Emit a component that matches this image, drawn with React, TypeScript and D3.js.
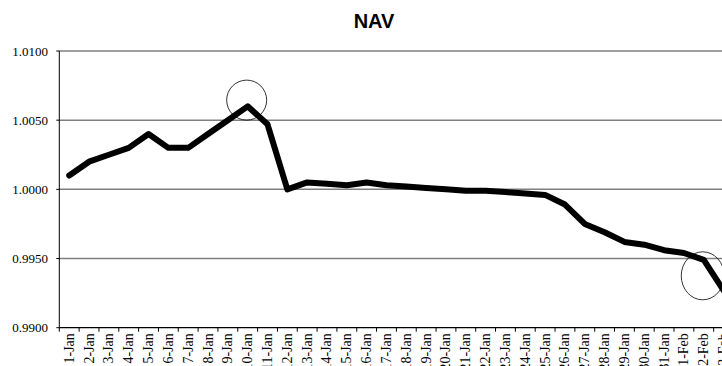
import React from "react";
import * as d3 from "d3";

const categories: string[] = [
  "1-Jan","2-Jan","3-Jan","4-Jan","5-Jan","6-Jan","7-Jan","8-Jan","9-Jan","10-Jan",
  "11-Jan","12-Jan","13-Jan","14-Jan","15-Jan","16-Jan","17-Jan","18-Jan","19-Jan","20-Jan",
  "21-Jan","22-Jan","23-Jan","24-Jan","25-Jan","26-Jan","27-Jan","28-Jan","29-Jan","30-Jan",
  "31-Jan","1-Feb","2-Feb","3-Feb",
];

const navValues: number[] = [
  1.0010, 1.0020, 1.0025, 1.0030, 1.0040, 1.0030, 1.0030, 1.0040, 1.0050, 1.0060,
  1.0047, 1.0000, 1.0005, 1.0004, 1.0003, 1.0005, 1.0003, 1.0002, 1.0001, 1.0000,
  0.9999, 0.9999, 0.9998, 0.9997, 0.9996, 0.9989, 0.9975, 0.9969, 0.9962, 0.9960,
  0.9956, 0.9954, 0.9949, 0.9927,
];

const yTicks: number[] = [0.99, 0.995, 1.0, 1.005, 1.01];

const annotationCats: string[] = ["10-Jan", "2-Feb"];
const annotationValues: number[] = [1.00645, 0.99375];

const W = 722;
const H = 366;
const left = 59.3;
const top = 51;
const bottom = 327.7;
const right = 733.5;

const SERIF = "'Liberation Serif', 'Times New Roman', Times, serif";
const SANS = "'Liberation Sans', Arial, sans-serif";

export default function App() {
  const x = d3.scaleBand<string>().domain(categories).range([left, right]).padding(0);
  const y = d3.scaleLinear().domain([0.99, 1.01]).range([bottom, top]);
  const cx = (c: string) => (x(c) as number) + x.bandwidth() / 2;

  const line = d3
    .line<number>()
    .x((_, i) => cx(categories[i]))
    .y((d) => y(d));

  const fmt = d3.format(".4f");

  return (
    <svg
      width={W}
      height={H}
      style={{ position: "absolute", left: 0, top: 0, background: "#fff" }}
    >
      <rect x={0} y={0} width={W} height={H} fill="#fff" />
      <text
        x={374}
        y={28}
        textAnchor="middle"
        style={{ fontFamily: SANS, fontWeight: "bold", fontSize: "20px" }}
        fill="#000"
      >
        NAV
      </text>

      {/* gridlines */}
      {yTicks
        .filter((t) => t > 0.99)
        .map((t) => (
          <line
            key={"g" + t}
            x1={left}
            x2={right}
            y1={y(t)}
            y2={y(t)}
            stroke="#7f7f7f"
            strokeWidth={1.5}
          />
        ))}

      {/* y axis */}
      <line x1={left} x2={left} y1={top} y2={bottom} stroke="#000" strokeWidth={1} />
      {yTicks.map((t) => (
        <g key={"y" + t}>
          <line x1={left - 3} x2={left} y1={y(t)} y2={y(t)} stroke="#000" strokeWidth={1} />
          <text
            x={48}
            y={y(t)}
            dy="0.35em"
            textAnchor="end"
            style={{ fontFamily: SERIF, fontSize: "13px" }}
            fill="#000"
          >
            {fmt(t)}
          </text>
        </g>
      ))}

      {/* x axis */}
      <line x1={left} x2={right} y1={bottom} y2={bottom} stroke="#000" strokeWidth={1.2} />
      {categories.map((c) => (
        <line
          key={"t" + c}
          x1={x(c) as number}
          x2={x(c) as number}
          y1={bottom}
          y2={bottom + 4}
          stroke="#000"
          strokeWidth={1}
        />
      ))}
      {categories.map((c) => (
        <text
          key={"l" + c}
          transform={`translate(${cx(c) + 4.5},${bottom + 5.5}) rotate(-90)`}
          textAnchor="end"
          style={{ fontFamily: SERIF, fontSize: "14px" }}
          fill="#000"
        >
          {c}
        </text>
      ))}

      {/* series */}
      <path
        d={line(navValues) || ""}
        fill="none"
        stroke="#000"
        strokeWidth={6}
        strokeLinejoin="round"
        strokeLinecap="round"
      />

      {/* annotation circles */}
      {annotationCats.map((c, i) => (
        <ellipse
          key={"a" + c}
          cx={cx(c) - 1}
          cy={y(annotationValues[i])}
          rx={i === 0 ? 20 : 21.5}
          ry={i === 0 ? 20 : 24}
          fill="none"
          stroke="#000"
          strokeWidth={0.8}
        />
      ))}
    </svg>
  );
}
